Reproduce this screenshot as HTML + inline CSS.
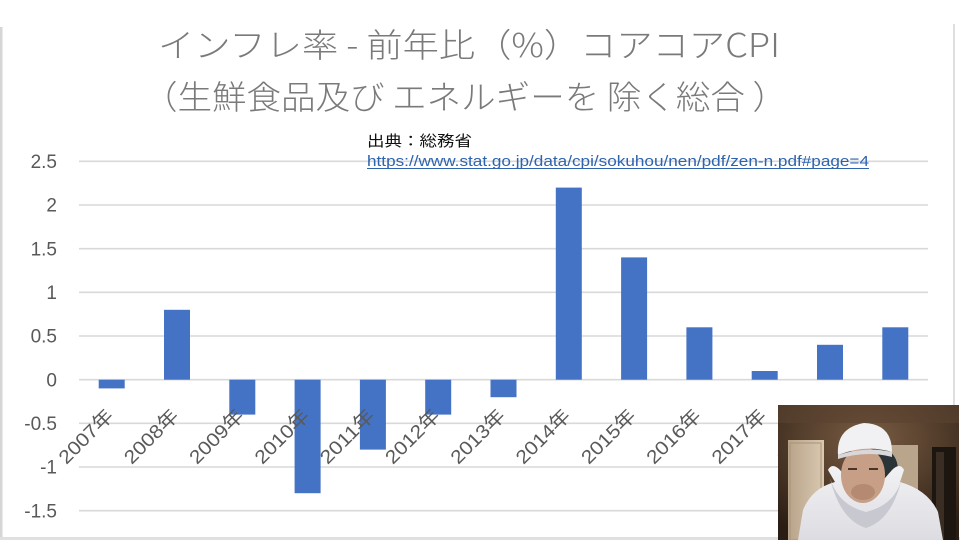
<!DOCTYPE html>
<html><head><meta charset="utf-8">
<style>
html,body{margin:0;padding:0;background:#fff;}
svg{display:block;}
</style></head>
<body>
<svg width="960" height="540" viewBox="0 0 960 540" xmlns="http://www.w3.org/2000/svg">
<defs>
<radialGradient id="room" cx="0.5" cy="0.25" r="0.8">
<stop offset="0" stop-color="#7a5d43"/>
<stop offset="0.6" stop-color="#4a3626"/>
<stop offset="1" stop-color="#2a1d14"/>
</radialGradient>
<linearGradient id="door" x1="0" x2="1">
<stop offset="0" stop-color="#b8a38a"/>
<stop offset="1" stop-color="#d9c8b0"/>
</linearGradient>
<linearGradient id="hood" x1="0" y1="0" x2="0" y2="1">
<stop offset="0" stop-color="#f2f2f4"/>
<stop offset="1" stop-color="#dcdce2"/>
</linearGradient>
</defs>
<rect width="960" height="540" fill="#fff"/>
<!-- borders -->
<rect x="0" y="27" width="2.5" height="513" fill="#d6d6d6"/>
<rect x="953" y="24" width="2" height="385" fill="#dedede"/>
<rect x="0" y="537" width="960" height="3" fill="#e0e0e0"/>

<!-- title -->
<g font-family="'Noto Sans CJK JP',sans-serif" font-weight="300" fill="#7a7a7a" font-size="33">
<text x="158" y="57" textLength="622" lengthAdjust="spacingAndGlyphs">インフレ率 - 前年比（%）コアコアCPI</text>
<text x="143" y="109" textLength="644" lengthAdjust="spacingAndGlyphs">（生鮮食品及び エネルギーを 除く総合 ）</text>
</g>

<!-- gridlines -->
<g stroke="#d9d9d9" stroke-width="1.6">
<line x1="79" x2="928" y1="161.3" y2="161.3"/>
<line x1="79" x2="928" y1="205" y2="205"/>
<line x1="79" x2="928" y1="248.7" y2="248.7"/>
<line x1="79" x2="928" y1="292.3" y2="292.3"/>
<line x1="79" x2="928" y1="336" y2="336"/>
<line x1="79" x2="928" y1="379.7" y2="379.7"/>
<line x1="79" x2="928" y1="423.3" y2="423.3"/>
<line x1="79" x2="928" y1="467" y2="467"/>
<line x1="79" x2="928" y1="510.7" y2="510.7"/>
</g>

<!-- source -->
<text x="367" y="146" font-family="'Noto Sans CJK JP',sans-serif" font-size="15" fill="#111" textLength="105" lengthAdjust="spacingAndGlyphs">出典：総務省</text>
<text x="367" y="166" font-family="'Liberation Sans',sans-serif" font-size="15" fill="#2e63b0" textLength="502" lengthAdjust="spacingAndGlyphs">https://www.stat.go.jp/data/cpi/sokuhou/nen/pdf/zen-n.pdf#page=4</text>
<line x1="367" x2="869" y1="168.5" y2="168.5" stroke="#2e63b0" stroke-width="1"/>

<!-- y labels -->
<g font-family="'Liberation Sans',sans-serif" font-size="19" fill="#595959" text-anchor="end">
<text x="57" y="168">2.5</text>
<text x="57" y="211.7">2</text>
<text x="57" y="255.4">1.5</text>
<text x="57" y="299">1</text>
<text x="57" y="342.7">0.5</text>
<text x="57" y="386.4">0</text>
<text x="57" y="430">-0.5</text>
<text x="57" y="473.7">-1</text>
<text x="57" y="517.4">-1.5</text>
</g>

<!-- bars -->
<g fill="#4472c4">
<rect x="98.7" y="379.7" width="26" height="8.7"/>
<rect x="164" y="309.8" width="26" height="69.9"/>
<rect x="229.3" y="379.7" width="26" height="34.9"/>
<rect x="294.6" y="379.7" width="26" height="113.5"/>
<rect x="359.9" y="379.7" width="26" height="69.9"/>
<rect x="425.2" y="379.7" width="26" height="34.9"/>
<rect x="490.5" y="379.7" width="26" height="17.5"/>
<rect x="555.8" y="187.6" width="26" height="192.1"/>
<rect x="621.1" y="257.4" width="26" height="122.3"/>
<rect x="686.4" y="327.3" width="26" height="52.4"/>
<rect x="751.7" y="371" width="26" height="8.7"/>
<rect x="817" y="344.8" width="26" height="34.9"/>
<rect x="882.3" y="327.3" width="26" height="52.4"/>
</g>

<!-- x labels -->
<g font-family="'Liberation Sans','Noto Sans CJK JP',sans-serif" font-size="19" fill="#595959" text-anchor="end">
<text transform="translate(114.5,417) rotate(-45)" textLength="68" lengthAdjust="spacingAndGlyphs">2007年</text>
<text transform="translate(179.8,417) rotate(-45)" textLength="68" lengthAdjust="spacingAndGlyphs">2008年</text>
<text transform="translate(245.1,417) rotate(-45)" textLength="68" lengthAdjust="spacingAndGlyphs">2009年</text>
<text transform="translate(310.4,417) rotate(-45)" textLength="68" lengthAdjust="spacingAndGlyphs">2010年</text>
<text transform="translate(375.7,417) rotate(-45)" textLength="68" lengthAdjust="spacingAndGlyphs">2011年</text>
<text transform="translate(441,417) rotate(-45)" textLength="68" lengthAdjust="spacingAndGlyphs">2012年</text>
<text transform="translate(506.3,417) rotate(-45)" textLength="68" lengthAdjust="spacingAndGlyphs">2013年</text>
<text transform="translate(571.6,417) rotate(-45)" textLength="68" lengthAdjust="spacingAndGlyphs">2014年</text>
<text transform="translate(636.9,417) rotate(-45)" textLength="68" lengthAdjust="spacingAndGlyphs">2015年</text>
<text transform="translate(702.2,417) rotate(-45)" textLength="68" lengthAdjust="spacingAndGlyphs">2016年</text>
<text transform="translate(767.5,417) rotate(-45)" textLength="68" lengthAdjust="spacingAndGlyphs">2017年</text>
<text transform="translate(832.8,417) rotate(-45)" textLength="68" lengthAdjust="spacingAndGlyphs">2018年</text>
<text transform="translate(898.1,417) rotate(-45)" textLength="68" lengthAdjust="spacingAndGlyphs">2019年</text>
</g>

<!-- webcam -->
<g>
<rect x="778" y="405" width="181" height="135" fill="url(#room)"/>
<rect x="778" y="405" width="181" height="18" fill="#5a4330" opacity="0.6"/>
<rect x="788" y="440" width="36" height="100" fill="url(#door)"/>
<rect x="790" y="443" width="31" height="97" fill="none" stroke="#a89378" stroke-width="1"/>
<rect x="890" y="445" width="28" height="55" fill="#b9a58c"/>
<rect x="932" y="447" width="24" height="93" fill="#1c1510"/>
<rect x="936" y="452" width="8" height="88" fill="#3a2e24"/>
<ellipse cx="884" cy="470" rx="14" ry="20" fill="#2a3436"/>
<path d="M798 540 L803 510 Q812 488 835 482 L828 470 Q832 462 840 470 L866 500 L892 470 Q900 462 904 470 L900 482 Q928 490 938 512 L943 540 Z" fill="url(#hood)"/>
<path d="M830 478 Q840 520 866 528 Q892 520 902 478 Q895 505 866 512 Q838 505 830 478 Z" fill="#c8c8d0"/>
<ellipse cx="863" cy="475" rx="22" ry="28" fill="#c79e86"/>
<ellipse cx="863" cy="492" rx="12" ry="8" fill="#b58a72"/>
<rect x="848" y="468" width="9" height="2" fill="#4a3428"/>
<rect x="869" y="468" width="9" height="2" fill="#4a3428"/>
<path d="M838 455 Q836 428 864 423 Q892 424 892 452 Q866 444 838 455 Z" fill="#f1f1f3"/>
<path d="M838 455 Q866 446 892 452 L892 457 Q866 450 838 459 Z" fill="#d8d8dc"/>
</g>
</svg>
</body></html>
